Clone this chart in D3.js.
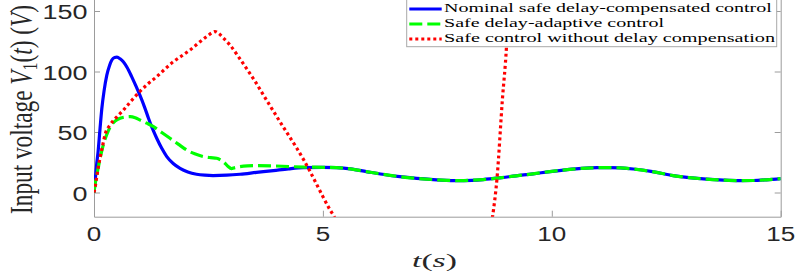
<!DOCTYPE html>
<html><head><meta charset="utf-8">
<script src="https://cdn.jsdelivr.net/npm/d3@7"></script>
<style>html,body{margin:0;padding:0;background:#fff;overflow:hidden}</style>
</head><body>
<script>
// ---- data ----
const blueT = [0,0.03,0.06,0.09,0.13,0.17,0.22,0.28,0.34,0.39,0.45,0.5,0.57,0.64,0.72,0.82,0.91,1.0,1.1,1.19,1.28,1.37,1.48,1.59,1.73,1.88,2.05,2.24,2.42,2.6,2.9,3.19,3.55,3.92,4.25,4.57,5.0,5.3,5.6,5.95,6.3,6.68,7.05,7.41,7.7,7.99,8.25,8.5,8.86,9.22,9.59,9.96,10.3,10.65,11.0,11.25,11.5,11.78,12.2,12.65,13.0,13.38,13.75,14.1,14.4,14.69,15.0];
const blueV = [0,12,24,34,52,69,84,97,105,109.5,111.5,111.8,110.5,108,103.5,96,88.5,80.6,71,61.4,52.5,44.8,36.5,29.7,24,20,17,15.1,14.3,14,14.3,15.1,16.6,18.1,19.5,20.5,20.8,20.5,19.5,17.3,15.1,13.1,11.7,10.7,10.1,9.8,10.1,10.7,12.1,13.8,15.4,17.3,18.7,19.9,20.5,20.6,20.3,19.4,17.2,14.0,12.3,11.0,10.2,9.8,9.9,10.5,11.5];

const greenT = [0,0.03,0.06,0.1,0.15,0.2,0.28,0.36,0.46,0.57,0.68,0.79,0.9,1.0,1.15,1.3,1.48,1.66,1.84,2.02,2.2,2.39,2.55,2.68,2.77,2.86,2.93,3.0,3.08,3.19,3.35,3.55,3.9,4.28,4.6,5.0,5.3,5.6,5.95,6.3,6.68,7.05,7.41,7.7,7.99,8.25,8.5,8.86,9.22,9.59,9.96,10.3,10.65,11.0,11.25,11.5,11.78,12.2,12.65,13.0,13.38,13.75,14.1,14.4,14.69,15.0];
const greenV = [0,8,14,22,31,39,48,54.5,59,61.4,62.4,62.7,61.8,60,57.3,54.4,49.6,44.8,40,35.2,32,29.7,28.8,28.3,26.8,24.2,21.5,19.8,20.6,21.4,22,22.2,22,21.4,21,20.8,20.5,19.5,17.3,15.1,13.1,11.7,10.7,10.1,9.8,10.1,10.7,12.1,13.8,15.4,17.3,18.7,19.9,20.5,20.6,20.3,19.4,17.2,14.0,12.3,11.0,10.2,9.8,9.9,10.5,11.5];

// null marks the stretch where the red curve runs below the axis (not visible)
const redT = [0,0.02,0.06,0.13,0.19,0.24,0.35,0.5,0.64,0.82,1.0,1.18,1.37,1.55,1.73,1.92,2.1,2.28,2.46,2.57,2.64,2.72,2.83,2.97,3.15,3.33,3.52,3.7,3.88,4.06,4.25,4.43,4.58,4.72,4.86,5.0,5.15,5.26,5.32,7.0,8.68,8.705,8.806,8.92,9.01,9.06,9.08];
const redV = [0,3.5,13,28.3,39,47.6,55.8,62.5,68,76,83.4,89.8,95.7,102,108,113,117.8,123.5,128.8,131.8,133,131.5,127.5,121.9,112.5,102.6,91.8,80.6,69.6,58.6,47.3,36.6,27,17.3,7,-3.4,-14,-21,-26,null,-26,-20,13,76.5,120.5,159,175];

const xTicks = [0,5,10,15];
const yTicks = [0,50,100,150];
const xTickLabels = ["0","5","10","15"];
const yTickLabels = ["0","50","100","150"];
const seriesNames = ["Nominal safe delay-compensated control","Safe delay-adaptive control","Safe control without delay compensation"];

// ---- layout ----
const W = 797, H = 271;
const L = 94, R = 780.7, T = -1.1, B = 216.7;
const svg = d3.select("body").append("svg").attr("width", W).attr("height", H);
const x = d3.scaleLinear().domain([0,15]).range([L,R]);
const y = d3.scaleLinear().domain([-20,160]).range([B,T]);

const axisCol = "#9c9c9c", textCol = "#262626";

svg.append("clipPath").attr("id","clip").append("rect")
  .attr("x",L).attr("y",T).attr("width",R-L).attr("height",B-T);

// axes box with inward ticks
const g = svg.append("g");
const ax = g.append("g").attr("transform",`translate(0,${B})`)
  .call(d3.axisBottom(x).tickValues(xTicks).tickSizeInner(-6).tickSizeOuter(0).tickFormat(""));
const ay = g.append("g").attr("transform",`translate(${L},0)`)
  .call(d3.axisLeft(y).tickValues(yTicks).tickSizeInner(-6).tickSizeOuter(0).tickFormat(""));
const ay2 = g.append("g").attr("transform",`translate(${R},0)`)
  .call(d3.axisRight(y).tickValues(yTicks).tickSizeInner(-6).tickSizeOuter(0).tickFormat(""));
g.selectAll("path.domain, line").attr("stroke",axisCol).attr("stroke-width",1);
g.selectAll("text").remove();

// tick labels (horizontally stretched like the reference)
const digitW = 15;
svg.append("g").selectAll("text").data(yTicks).join("text")
  .attr("x", L-6.5).attr("y", d => y(d)+8)
  .attr("text-anchor","end")
  .attr("font-family","Liberation Sans, Arial, sans-serif").attr("font-size",19.5)
  .attr("fill",textCol)
  .attr("textLength",(d,i)=>yTickLabels[i].length*digitW).attr("lengthAdjust","spacingAndGlyphs")
  .text((d,i)=>yTickLabels[i]);
svg.append("g").selectAll("text").data(xTicks).join("text")
  .attr("x", d => x(d)).attr("y", 240.7)
  .attr("text-anchor","middle")
  .attr("font-family","Liberation Sans, Arial, sans-serif").attr("font-size",19.5)
  .attr("fill",textCol)
  .attr("textLength",(d,i)=>xTickLabels[i].length*14.5).attr("lengthAdjust","spacingAndGlyphs")
  .text((d,i)=>xTickLabels[i]);

// axis titles
const xl = svg.append("text").attr("x",434.5).attr("y",267)
  .attr("text-anchor","middle").attr("font-family","Liberation Serif, Times New Roman, serif")
  .attr("font-size",18).attr("fill",textCol)
  .attr("textLength",45).attr("lengthAdjust","spacingAndGlyphs");
xl.append("tspan").attr("font-style","italic").text("t");
xl.append("tspan").text("(");
xl.append("tspan").attr("font-style","italic").text("s");
xl.append("tspan").text(")");

const yl = svg.append("text")
  .attr("transform","translate(31.7,109.5) scale(1.4,1) rotate(-90)")
  .attr("text-anchor","middle").attr("font-family","Liberation Serif, Times New Roman, serif")
  .attr("font-size",22).attr("fill",textCol)
  .attr("textLength",209).attr("lengthAdjust","spacingAndGlyphs");
yl.append("tspan").text("Input voltage ");
yl.append("tspan").attr("font-style","italic").text("V");
yl.append("tspan").attr("font-size",15).attr("dy",4).text("1");
yl.append("tspan").attr("dy",-4).text("(");
yl.append("tspan").attr("font-style","italic").text("t");
yl.append("tspan").text(") (");
yl.append("tspan").attr("font-style","italic").text("V");
yl.append("tspan").text(")");

// curves
const plot = svg.append("g").attr("clip-path","url(#clip)");
const mk = (T_, V_) => T_.map((t,i)=>({t, v: V_[i]}));
const line = d3.line().defined(d => d.v !== null).x(d=>x(d.t)).y(d=>y(d.v)).curve(d3.curveMonotoneX);
const styles = [
  {col:"#0000ff", dash:null, w:3.2},
  {col:"#00ff00", dash:"13,5", w:3.2},
  {col:"#ff0000", dash:"3,3", w:3.2}
];
const data = [mk(blueT,blueV), mk(greenT,greenV), mk(redT,redV)];
data.forEach((d,i)=>{
  plot.append("path").datum(d).attr("d",line).attr("fill","none")
    .attr("stroke",styles[i].col).attr("stroke-width",styles[i].w)
    .attr("stroke-dasharray",styles[i].dash);
});

// legend
const lg = svg.append("g");
lg.append("rect").attr("x",406.7).attr("y",-1).attr("width",370).attr("height",47.7)
  .attr("fill","#fff").attr("stroke","#a8a8a8").attr("stroke-width",1);
const legendLens = [327.7, 220, 331];
seriesNames.forEach((name,i)=>{
  const yy = 9 + 15*i;
  lg.append("line").attr("x1",409.3).attr("x2",441.7).attr("y1",yy).attr("y2",yy)
    .attr("stroke",styles[i].col).attr("stroke-width",styles[i].w)
    .attr("stroke-dasharray",styles[i].dash);
  lg.append("text").attr("x",444).attr("y",12.3+15*i)
    .attr("font-family","Liberation Serif, Times New Roman, serif").attr("font-size",12.5)
    .attr("fill","#000")
    .attr("textLength",legendLens[i]).attr("lengthAdjust","spacingAndGlyphs")
    .text(name);
});
</script>
</body></html>
